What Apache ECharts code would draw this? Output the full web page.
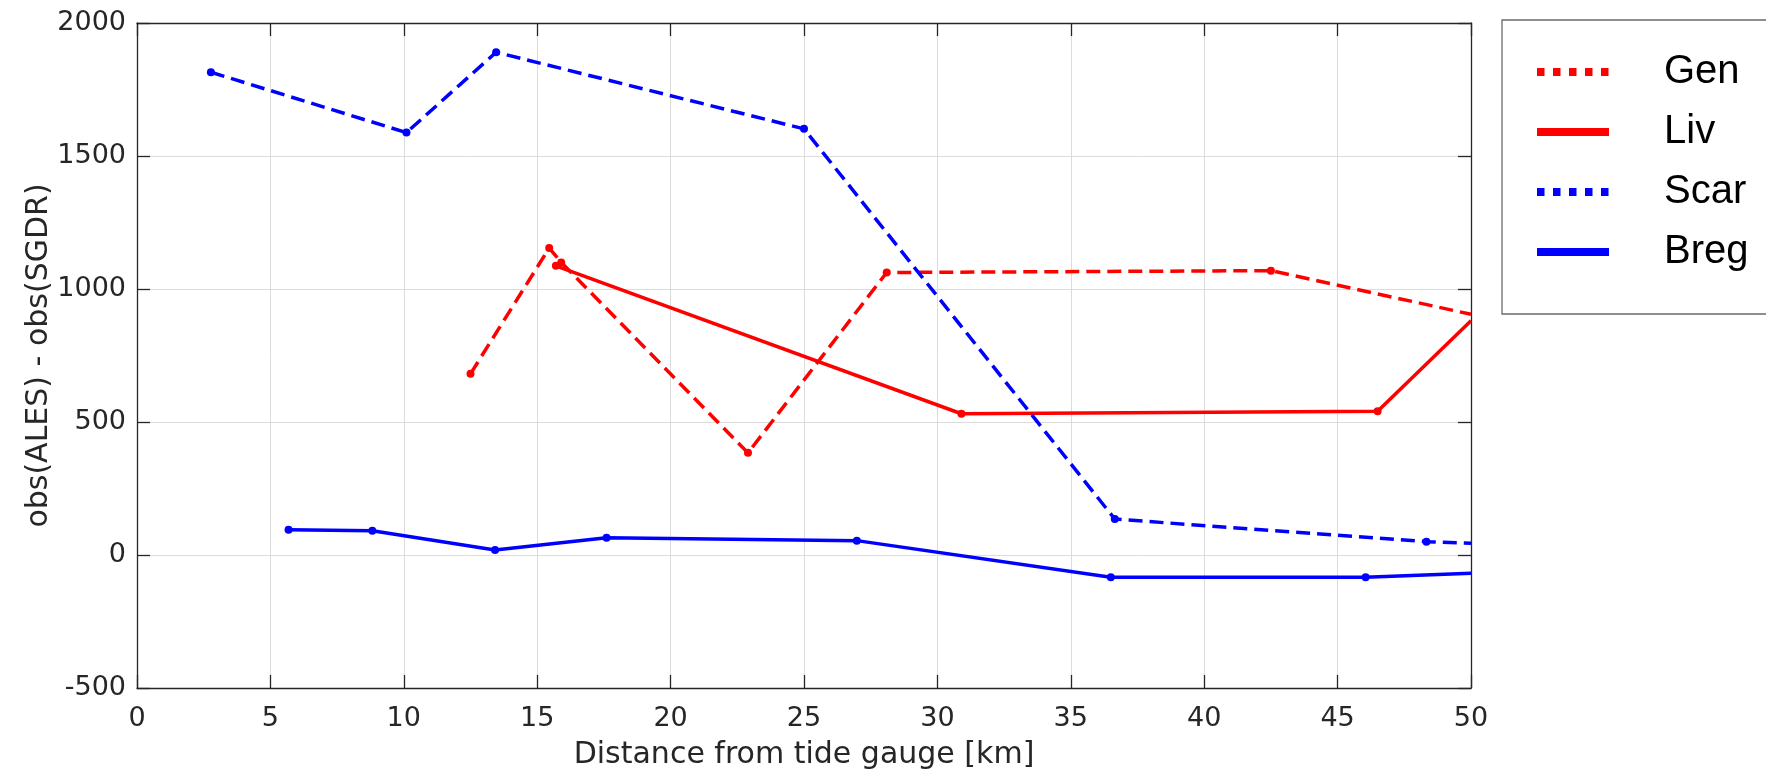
<!DOCTYPE html>
<html><head><meta charset="utf-8">
<script src="https://cdn.jsdelivr.net/npm/echarts@6/dist/echarts.min.js"></script>
<style>html,body{margin:0;padding:0;background:#fff}#c{width:1766px;height:771px}</style>
</head><body><div id="c"></div>
<script>
// ---- data ----
const seriesNames = ['Gen', 'Liv', 'Scar', 'Breg'];
const genX  = [12.5, 15.45, 15.9, 22.9, 28.1, 42.5, 50];
const genY  = [681, 1154, 1100, 384, 1062, 1069, 905];
const livX  = [15.7, 30.9, 46.5, 50];
const livY  = [1087, 531, 540, 881];
const scarX = [2.77, 10.1, 13.46, 25.0, 36.65, 48.33, 50];
const scarY = [1815, 1588, 1890, 1602, 135, 50, 44];
const bregX = [5.68, 8.82, 13.42, 17.6, 26.98, 36.5, 46.05, 50];
const bregY = [95, 91, 19, 65, 54, -84, -84, -69];
const xTickMin = 0, xTickMax = 50, xTickStep = 5;
const yTickMin = -500, yTickMax = 2000, yTickStep = 500;
const xTitle = 'Distance from tide gauge [km]';
const yTitle = 'obs(ALES) - obs(SGDR)';

// ---- build ----
function pairs(xs, ys) { return xs.map((x, i) => [x, ys[i]]); }
const RED = '#ff0000', BLUE = '#0000ff', AX = '#262626', GRID = '#dcdcdc';
const DASH = [14, 7];
const symSize = v => (v[0] >= xTickMax ? 0 : 8);

function mkSeries(name, data, color, dashed) {
  return {
    name, type: 'line', data, xAxisIndex: 0, yAxisIndex: 0,
    symbol: 'circle', symbolSize: symSize, showSymbol: true,
    itemStyle: { color },
    lineStyle: { color, width: 3.5, type: dashed ? DASH : 'solid' },
    emphasis: { disabled: true }, clip: true
  };
}

const axisLineStyle = { color: AX, width: 1.3 };
const baseX = { type: 'value', min: xTickMin, max: xTickMax, interval: xTickStep };
const baseY = { type: 'value', min: yTickMin, max: yTickMax, interval: yTickStep };
const plain = v => String(v);

const option = {
  animation: false,
  backgroundColor: '#fff',
  grid: { left: 137, right: 295, top: 23, bottom: 83, containLabel: false, outerBoundsMode: 'none' },
  xAxis: [
    Object.assign({}, baseX, {
      position: 'bottom',
      name: xTitle, nameLocation: 'middle', nameGap: 52, nameMoveOverlap: false,
      nameTextStyle: { fontSize: 30, color: AX, fontFamily: 'DejaVu Sans' },
      axisLine: { show: true, onZero: false, lineStyle: axisLineStyle },
      axisTick: { show: true, inside: true, length: 13, lineStyle: { color: AX, width: 1.3 } },
      axisLabel: { fontSize: 27, color: AX, margin: 17, fontFamily: 'DejaVu Sans', formatter: plain },
      splitLine: { show: true, lineStyle: { color: GRID, width: 1 } }
    }),
    Object.assign({}, baseX, {
      position: 'top',
      axisLine: { show: true, onZero: false, lineStyle: axisLineStyle },
      axisTick: { show: true, inside: true, length: 13, lineStyle: { color: AX, width: 1.3 } },
      axisLabel: { show: false },
      splitLine: { show: false }
    })
  ],
  yAxis: [
    Object.assign({}, baseY, {
      position: 'left',
      name: yTitle, nameLocation: 'middle', nameGap: 83, nameRotate: 90, nameMoveOverlap: false,
      nameTextStyle: { fontSize: 30, color: AX, fontFamily: 'DejaVu Sans' },
      axisLine: { show: true, onZero: false, lineStyle: axisLineStyle },
      axisTick: { show: true, inside: true, length: 13, lineStyle: { color: AX, width: 1.3 } },
      axisLabel: { fontSize: 27, color: AX, margin: 11, fontFamily: 'DejaVu Sans', formatter: plain },
      splitLine: { show: true, lineStyle: { color: GRID, width: 1 } }
    }),
    Object.assign({}, baseY, {
      position: 'right',
      axisLine: { show: true, onZero: false, lineStyle: axisLineStyle },
      axisTick: { show: true, inside: true, length: 13, lineStyle: { color: AX, width: 1.3 } },
      axisLabel: { show: false },
      splitLine: { show: false }
    })
  ],
  legend: {
    orient: 'vertical', left: 1502, top: 20,
    padding: [32, 60, 42, 31],
    itemWidth: 72, itemHeight: 8, itemGap: 20,
    borderColor: '#6a6a6a', borderWidth: 1.3, backgroundColor: '#fff',
    selectedMode: false,
    itemStyle: { opacity: 0 },
    textStyle: { fontSize: 40, lineHeight: 40, color: '#000', fontFamily: 'Liberation Sans', padding: [0, 0, 0, 50] },
    data: [
      { name: seriesNames[0], lineStyle: { width: 8, type: [7.5, 8.5], cap: 'butt' } },
      { name: seriesNames[1], lineStyle: { width: 8, type: 'solid', cap: 'butt' } },
      { name: seriesNames[2], lineStyle: { width: 8, type: [7.5, 8.5], cap: 'butt' } },
      { name: seriesNames[3], lineStyle: { width: 8, type: 'solid', cap: 'butt' } }
    ]
  },
  series: [
    mkSeries(seriesNames[0], pairs(genX, genY), RED, true),
    mkSeries(seriesNames[1], pairs(livX, livY), RED, false),
    mkSeries(seriesNames[2], pairs(scarX, scarY), BLUE, true),
    mkSeries(seriesNames[3], pairs(bregX, bregY), BLUE, false)
  ]
};
const chart = echarts.init(document.getElementById('c'), null, { renderer: 'canvas' });
chart.setOption(option);
</script>
</body></html>
